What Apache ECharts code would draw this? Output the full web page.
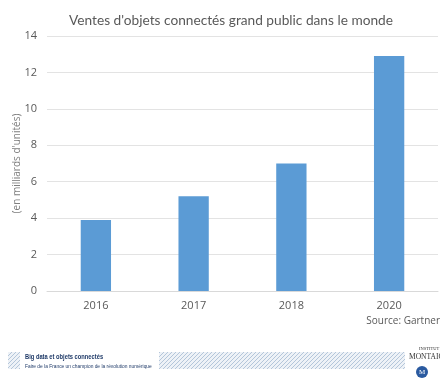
<!DOCTYPE html>
<html><head><meta charset="utf-8">
<script src="https://cdn.jsdelivr.net/npm/echarts@6/dist/echarts.min.js"></script>
<style>html,body{margin:0;padding:0;background:#fff}#c{width:440px;height:380px}</style>
</head><body><div id="c"></div>
<script>
var categories = ['2016', '2017', '2018', '2020'];
var sales = [3.9, 5.2, 7.0, 12.9];
var yTicks = [0, 2, 4, 6, 8, 10, 12, 14];

function hatch() {
  var c = document.createElement('canvas');
  c.width = 4; c.height = 4;
  var g = c.getContext('2d');
  g.fillStyle = '#eef2f7'; g.fillRect(0, 0, 4, 4);
  g.strokeStyle = '#b4c6da'; g.lineWidth = 1;
  g.beginPath(); g.moveTo(0, 4); g.lineTo(4, 0); g.stroke();
  g.beginPath(); g.moveTo(-1, 1); g.lineTo(1, -1); g.stroke();
  g.beginPath(); g.moveTo(3, 5); g.lineTo(5, 3); g.stroke();
  return {image: c, repeat: 'repeat'};
}
var pat = hatch();

var chart = echarts.init(document.getElementById('c'));
chart.setOption({
  animation: false,
  title: {
    text: "Ventes d'objets connectés grand public dans le monde",
    left: 226, top: 9, textAlign: 'center',
    textStyle: {fontFamily: 'Lato', fontSize: 13.7, fontWeight: 'normal', color: '#595959'}
  },
  grid: {left: 47, right: 2, top: 36, bottom: 89, outerBoundsMode: 'none', containLabel: false},
  xAxis: {
    type: 'category', data: categories,
    axisLine: {lineStyle: {color: '#d9d9d9'}},
    axisTick: {show: false},
    axisLabel: {color: '#595959', fontSize: 11, fontFamily: 'Open Sans', margin: 9}
  },
  yAxis: {
    type: 'value', min: 0, max: 14, interval: 2,
    name: "(en milliards d'unités)", nameLocation: 'middle', nameGap: 25, nameRotate: 90,
    nameMoveOverlap: false,
    nameTextStyle: {color: '#7f7f7f', fontSize: 10, fontFamily: 'Open Sans'},
    axisLine: {show: false}, axisTick: {show: false},
    splitLine: {lineStyle: {color: '#e3e3e3'}},
    axisLabel: {color: '#595959', fontSize: 11, fontFamily: 'Open Sans', margin: 10,
      formatter: function (v) { return yTicks.indexOf(v) >= 0 ? String(v) : ''; }}
  },
  series: [{
    type: 'bar', data: sales, barWidth: '31%',
    itemStyle: {color: '#5b9bd5'}
  }],
  graphic: [
    {type: 'text', right: 0, top: 316, style: {text: 'Source: Gartner', fill: '#595959', fontSize: 10, fontFamily: 'Open Sans'}},
    {type: 'rect', shape: {x: 8, y: 352, width: 12, height: 17}, style: {fill: pat}},
    {type: 'rect', shape: {x: 159, y: 352, width: 246, height: 17}, style: {fill: pat}},
    {type: 'text', x: 25, y: 353, scaleX: 0.72, style: {text: 'Big data et objets connectés', fill: '#1f3a68', fontSize: 8, fontFamily: 'Liberation Sans', fontWeight: 'bold'}},
    {type: 'text', x: 25, y: 363, scaleX: 0.88, style: {text: 'Faire de la France un champion de la révolution numérique', fill: '#1f3a68', fontSize: 5.5, fontFamily: 'Liberation Sans'}},
    {type: 'text', left: 419, top: 346, style: {text: 'INSTITUT', fill: '#333', fontSize: 4.5, fontFamily: 'Liberation Serif'}},
    {type: 'text', left: 409, top: 353, style: {text: 'MONTAIGNE', fill: '#333', fontSize: 7.5, fontFamily: 'Liberation Serif'}},
    {type: 'circle', shape: {cx: 422, cy: 372, r: 6}, style: {fill: '#2a5aa0'}},
    {type: 'text', x: 422, y: 372, style: {text: 'M', fill: '#fff', fontSize: 7, fontFamily: 'Liberation Serif', align: 'center', verticalAlign: 'middle'}}
  ]
});
</script></body></html>
